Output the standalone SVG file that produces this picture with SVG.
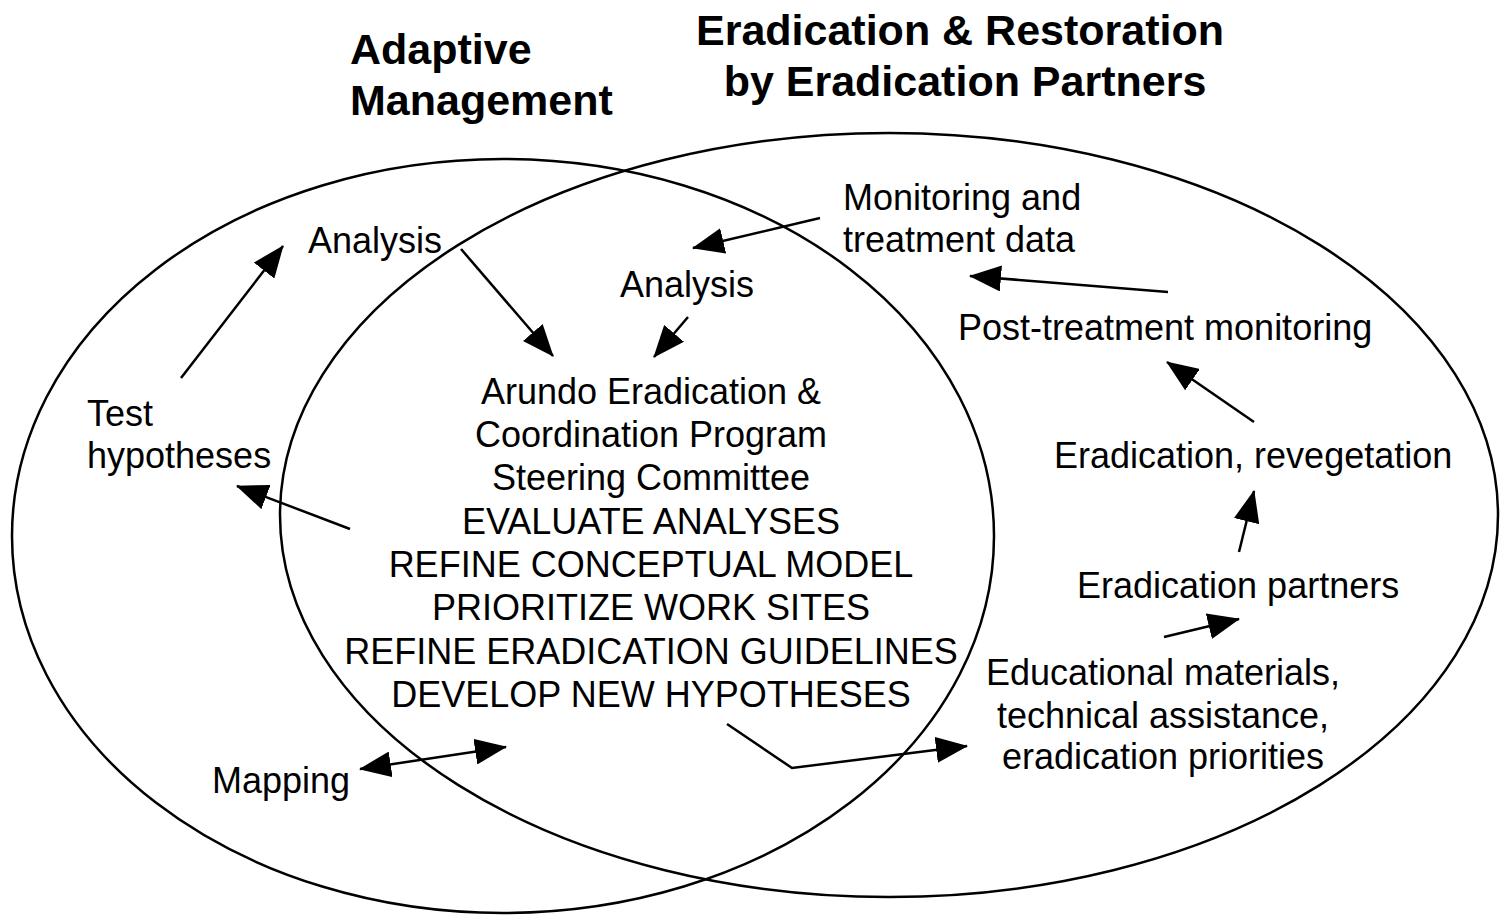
<svg xmlns="http://www.w3.org/2000/svg" width="1500" height="915" viewBox="0 0 1500 915">
  <style>
    .ring { fill: none; stroke: #000; stroke-width: 2.5; }
    .title { font-family: "Liberation Sans", Arial, sans-serif; font-weight: bold; font-size: 43px; fill: #000; }
    .lbl { font-family: "Liberation Sans", Arial, sans-serif; font-size: 36px; fill: #000; }
    .mid { text-anchor: middle; }
    .edge { fill: none; stroke: #000; stroke-width: 2.5; }
  </style>
  <defs>
    <marker id="head" markerUnits="userSpaceOnUse" markerWidth="32" markerHeight="26" viewBox="0 0 32 26" refX="31" refY="13" orient="auto-start-reverse">
      <path d="M0,0 L32,13 L0,26 Z" fill="#000"/>
    </marker>
  </defs>
  <rect width="1500" height="915" fill="#fff"/>

  <!-- two overlapping domains -->
  <g id="ring-adaptive">
    <ellipse class="ring" cx="503" cy="536" rx="491" ry="377"/>
  </g>
  <g id="ring-eradication">
    <ellipse class="ring" cx="889" cy="515" rx="609" ry="382"/>
  </g>

  <!-- headings -->
  <g id="title-adaptive">
    <text class="title" x="350" y="64">Adaptive</text>
    <text class="title" x="350" y="115">Management</text>
  </g>
  <g id="title-eradication">
    <text class="title mid" x="960" y="45">Eradication &amp; Restoration</text>
    <text class="title mid" x="965" y="96">by Eradication Partners</text>
  </g>

  <!-- nodes -->
  <g id="node-analysis-left">
    <text class="lbl" x="308" y="253">Analysis</text>
  </g>
  <g id="node-analysis-mid">
    <text class="lbl" x="620" y="297">Analysis</text>
  </g>
  <g id="node-test">
    <text class="lbl" x="87" y="426">Test</text>
    <text class="lbl" x="87" y="468">hypotheses</text>
  </g>
  <g id="node-mapping">
    <text class="lbl" x="212" y="793">Mapping</text>
  </g>
  <g id="node-committee">
    <text class="lbl mid" x="651" y="404">Arundo Eradication &amp;</text>
    <text class="lbl mid" x="651" y="447">Coordination Program</text>
    <text class="lbl mid" x="651" y="490">Steering Committee</text>
    <text class="lbl mid" x="651" y="534">EVALUATE ANALYSES</text>
    <text class="lbl mid" x="651" y="577">REFINE CONCEPTUAL MODEL</text>
    <text class="lbl mid" x="651" y="620">PRIORITIZE WORK SITES</text>
    <text class="lbl mid" x="651" y="664">REFINE ERADICATION GUIDELINES</text>
    <text class="lbl mid" x="651" y="707">DEVELOP NEW HYPOTHESES</text>
  </g>
  <g id="node-monitoring-data">
    <text class="lbl" x="843" y="210">Monitoring and</text>
    <text class="lbl" x="843" y="252">treatment data</text>
  </g>
  <g id="node-post-treatment">
    <text class="lbl" x="958" y="340">Post-treatment monitoring</text>
  </g>
  <g id="node-revegetation">
    <text class="lbl" x="1054" y="468">Eradication, revegetation</text>
  </g>
  <g id="node-partners">
    <text class="lbl" x="1077" y="598">Eradication partners</text>
  </g>
  <g id="node-education">
    <text class="lbl mid" x="1163" y="685">Educational materials,</text>
    <text class="lbl mid" x="1163" y="728">technical assistance,</text>
    <text class="lbl mid" x="1163" y="769">eradication priorities</text>
  </g>

  <!-- connectors -->
  <g id="connectors">
    <line class="edge" x1="181" y1="378" x2="283" y2="246" marker-end="url(#head)"/>
    <line class="edge" x1="461" y1="249" x2="553" y2="356" marker-end="url(#head)"/>
    <line class="edge" x1="688" y1="317" x2="654" y2="357" marker-end="url(#head)"/>
    <line class="edge" x1="820" y1="218" x2="693" y2="248" marker-end="url(#head)"/>
    <line class="edge" x1="1168" y1="292" x2="970" y2="276" marker-end="url(#head)"/>
    <line class="edge" x1="1254" y1="422" x2="1167" y2="362" marker-end="url(#head)"/>
    <line class="edge" x1="1239" y1="552" x2="1254" y2="491" marker-end="url(#head)"/>
    <line class="edge" x1="1164" y1="637" x2="1239" y2="619" marker-end="url(#head)"/>
    <line class="edge" x1="350" y1="529" x2="237" y2="486" marker-end="url(#head)"/>
    <line class="edge" x1="360" y1="769" x2="506" y2="747" marker-start="url(#head)" marker-end="url(#head)"/>
    <polyline class="edge" points="727,724 792,768 967,746" marker-end="url(#head)"/>
  </g>
</svg>
